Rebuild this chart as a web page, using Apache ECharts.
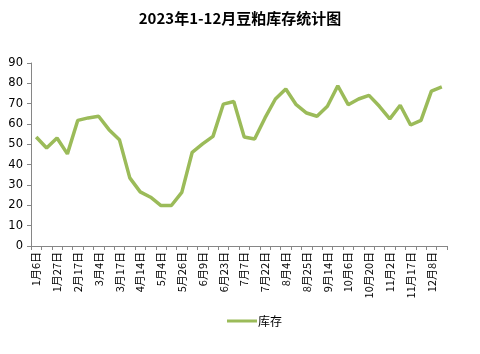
<!DOCTYPE html>
<html>
<head>
<meta charset="utf-8">
<script src="https://cdn.jsdelivr.net/npm/echarts@6/dist/echarts.min.js"></script>
<style>
  html, body { margin: 0; padding: 0; background: #fff; }
  #chart { width: 480px; height: 354px; }
</style>
</head>
<body>
<div id="chart"></div>
<script>
// weekly dates (every other one is labelled on the axis)
var dates = [
    '1月6日', '1月13日', '1月27日', '2月3日', '2月17日', '2月24日', '3月4日', '3月10日',
    '3月17日', '3月31日', '4月14日', '4月21日', '5月4日', '5月12日', '5月26日', '6月2日',
    '6月9日', '6月16日', '6月23日', '6月30日', '7月7日', '7月14日', '7月22日', '7月28日',
    '8月4日', '8月11日', '8月25日', '9月1日', '9月14日', '9月22日', '10月6日', '10月13日',
    '10月20日', '10月27日', '11月2日', '11月10日', '11月17日', '11月24日', '12月8日', '12月15日'
];
var stock = [
    53.6, 48.2, 53.1, 45.3, 61.8, 63.0, 63.8, 57.2, 52.3, 33.5,
    26.6, 24.0, 19.9, 19.9, 26.4, 46.1, 50.2, 53.9, 69.8, 71.1,
    53.6, 52.6, 63.0, 72.3, 77.2, 69.5, 65.4, 63.8, 68.7, 78.8,
    69.5, 72.3, 74.1, 68.7, 62.5, 69.2, 59.5, 61.8, 76.2, 78.2
];
var seriesName = '库存';
var titleText = '2023年1-12月豆粕库存统计图';

var myChart = echarts.init(document.getElementById('chart'));
var option = {
    animation: false,
    title: {
        text: titleText,
        left: 'center',
        top: 6,
        textStyle: {
            fontFamily: '"Noto Sans CJK SC", serif',
            fontSize: 15,
            fontWeight: 'bold',
            color: '#000'
        }
    },
    legend: {
        bottom: 22,
        left: 222,
        itemWidth: 30,
        itemHeight: 3,
        itemGap: 2,
        icon: 'rect',
        textStyle: {fontSize: 12, color: '#000', padding: [0, 0, 0, -4], fontFamily: '"Noto Sans CJK SC", sans-serif'},
        data: [seriesName]
    },
    grid: {
        left: 31,
        right: 33,
        top: 63,
        bottom: 108,
        containLabel: false
    },
    xAxis: {
        type: 'category',
        data: dates,
        boundaryGap: true,
        axisLine: {lineStyle: {color: '#868686', width: 1}},
        axisTick: {show: true, length: 4, interval: 0, lineStyle: {color: '#868686'}},
        axisLabel: {
            interval: 1,
            rotate: 90,
            fontSize: 11,
            color: '#000',
            margin: 6,
            fontFamily: '"Noto Sans CJK SC", sans-serif'
        },
        splitLine: {show: false}
    },
    yAxis: {
        type: 'value',
        min: 0,
        max: 90,
        interval: 10,
        axisLine: {show: true, lineStyle: {color: '#868686', width: 1}},
        axisTick: {show: true, length: 4, lineStyle: {color: '#868686'}},
        axisLabel: {fontSize: 11.5, color: '#000', margin: 8, fontFamily: 'Verdana, "DejaVu Sans", sans-serif'},
        splitLine: {show: false}
    },
    series: [{
        name: seriesName,
        type: 'line',
        data: stock,
        symbol: 'none',
        lineStyle: {color: '#9BBB59', width: 3.5},
        itemStyle: {color: '#9BBB59'}
    }]
};
myChart.setOption(option);
</script>
</body>
</html>
